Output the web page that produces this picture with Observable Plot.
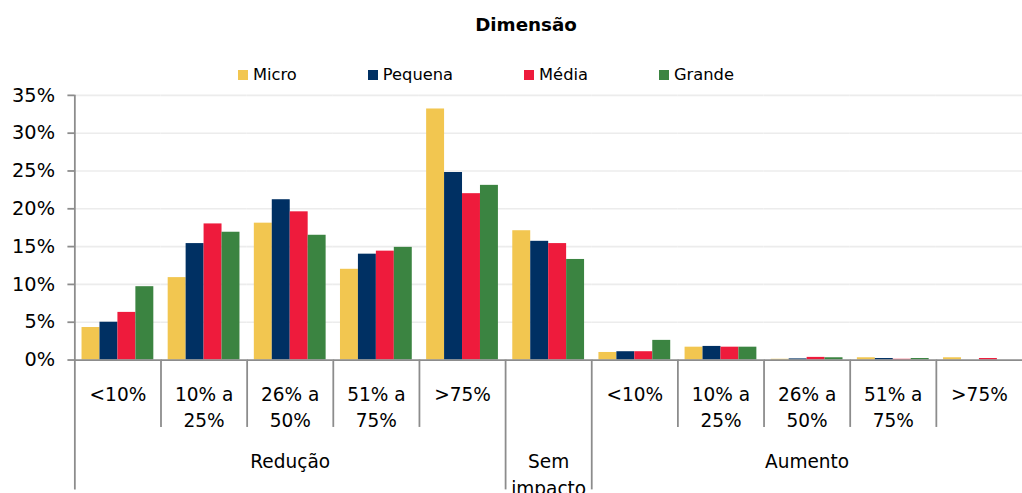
<!DOCTYPE html>
<html>
<head>
<meta charset="utf-8">
<script src="https://cdn.jsdelivr.net/npm/d3@7"></script>
<script src="https://cdn.jsdelivr.net/npm/@observablehq/plot@0.6"></script>
<style>
  html, body { margin: 0; padding: 0; background: #fff; }
  body { width: 1022px; height: 493px; overflow: hidden; position: relative; font-family: "DejaVu Sans", sans-serif; }
  #title { position: absolute; top: 15px; left: 0; width: 1052px; height: 20px; line-height: 20px; text-align: center; font-weight: bold; font-size: 18.3px; color: #000; }
  #legend { position: absolute; top: 65px; left: 238px; height: 20px; display: flex; align-items: center; font-size: 16.3px; color: #000; }
  #legend .item { display: flex; align-items: center; margin-right: 71px; line-height: 20px; }
  #legend .sw { width: 10px; height: 10px; margin-right: 5px; }
  #chart { position: absolute; top: 80px; left: 0; }
</style>
</head>
<body>
<div id="title">Dimensão</div>
<div id="legend"></div>
<div id="chart"></div>
<script>
// ---- data ----
const catIds    = ["r1", "r2", "r3", "r4", "r5", "s", "a1", "a2", "a3", "a4", "a5"];
const catLabels = ["<10%", "10% a\n25%", "26% a\n50%", "51% a\n75%", ">75%", "",
                   "<10%", "10% a\n25%", "26% a\n50%", "51% a\n75%", ">75%"];
const catGroups = ["Redução", "Redução", "Redução", "Redução", "Redução", "Sem\nimpacto",
                   "Aumento", "Aumento", "Aumento", "Aumento", "Aumento"];
const seriesNames  = ["Micro", "Pequena", "Média", "Grande"];
const seriesColors = ["#F2C650", "#003063", "#EE1B3C", "#3B8441"];
const micro   = [4.3, 10.9, 18.1, 12.0, 33.2, 17.1, 1.0, 1.7, 0.1, 0.3, 0.3];
const pequena = [5.0, 15.4, 21.2, 14.0, 24.8, 15.7, 1.1, 1.8, 0.15, 0.2, 0.0];
const media   = [6.3, 18.0, 19.6, 14.4, 22.0, 15.4, 1.1, 1.7, 0.35, 0.1, 0.2];
const grande  = [9.7, 16.9, 16.5, 14.9, 23.1, 13.3, 2.6, 1.7, 0.3, 0.2, 0.0];
const yTicks  = [0, 5, 10, 15, 20, 25, 30, 35];

// ---- build tables ----
const seriesValues = [micro, pequena, media, grande];
const rows = [];
catIds.forEach((id, i) => seriesNames.forEach((s, j) => rows.push({cat: id, series: s, value: seriesValues[j][i]})));
const catRows = catIds.map((id, i) => ({id, label: catLabels[i]}));
const groupNames = [...new Set(catGroups)];
const groupRows = groupNames.map(g => {
  const idx = catIds.map((id, i) => i).filter(i => catGroups[i] === g);
  return {id: catIds[idx[Math.floor(idx.length / 2)]], label: g};
});
const seps = catIds.map((id, i) => ({id, kind: i === 0 ? "axis" : (catGroups[i] !== catGroups[i - 1] ? "long" : "short")}));

// ---- layout ----
const W = 1031, H = 413, ML = 75, MR = 0, MT = 15, MB = 131;
const PAD_OUT = 0.4;
const frameH = H - MT - MB;
const band = (W - ML - MR) / catIds.length;
const step = band / (seriesNames.length + 2 * PAD_OUT);
const sepDx = -(PAD_OUT + 0.5) * step;
const AX = "#8c8c8c";

// legend
const leg = document.getElementById("legend");
seriesNames.forEach((s, i) => {
  const it = document.createElement("div"); it.className = "item";
  const sw = document.createElement("div"); sw.className = "sw"; sw.style.background = seriesColors[i];
  const t = document.createElement("span"); t.textContent = s;
  it.appendChild(sw); it.appendChild(t); leg.appendChild(it);
});

const sepMark = (kind, insetTop, insetBottom) => Plot.ruleX(seps.filter(d => d.kind === kind), {
  fx: "id", x: () => seriesNames[0], dx: sepDx, insetTop, insetBottom, stroke: AX, strokeWidth: 1.8
});

const chart = Plot.plot({
  width: W, height: H,
  marginLeft: ML, marginRight: MR, marginTop: MT, marginBottom: MB,
  style: {fontFamily: "DejaVu Sans, sans-serif", fontSize: "18.7px", color: "#000", background: "transparent", overflow: "visible"},
  fx: {domain: catIds, padding: 0, round: false, axis: null, label: null},
  x: {domain: seriesNames, paddingInner: 0, paddingOuter: PAD_OUT, round: false, axis: null, label: null},
  y: {domain: [0, 35], axis: null, label: null},
  color: {domain: seriesNames, range: seriesColors},
  marks: [
    Plot.gridY(yTicks.filter(d => d > 0), {stroke: "#ececec", strokeOpacity: 1, strokeWidth: 1.6}),
    Plot.barY(rows, {fx: "cat", x: "series", y: "value", fill: "series"}),
    Plot.ruleY([0], {stroke: AX, strokeWidth: 1.8}),
    Plot.axisY({ticks: yTicks, tickFormat: d => d + "%", tickSize: 7, tickPadding: 13, stroke: AX, strokeWidth: 1.8, fontSize: 19.5, label: null}),
    sepMark("axis", 0, -MB),
    sepMark("long", frameH, -MB),
    sepMark("short", frameH, -68),
    Plot.text(catRows, {fx: "id", text: "label", frameAnchor: "bottom", lineAnchor: "top", dy: 22, lineHeight: 1.43, fontSize: 18.7, fill: "#000"}),
    Plot.text(groupRows, {fx: "id", text: "label", frameAnchor: "bottom", lineAnchor: "top", dy: 90, lineHeight: 1.43, fontSize: 18.7, fill: "#000"})
  ]
});
document.getElementById("chart").appendChild(chart);
</script>
</body>
</html>
